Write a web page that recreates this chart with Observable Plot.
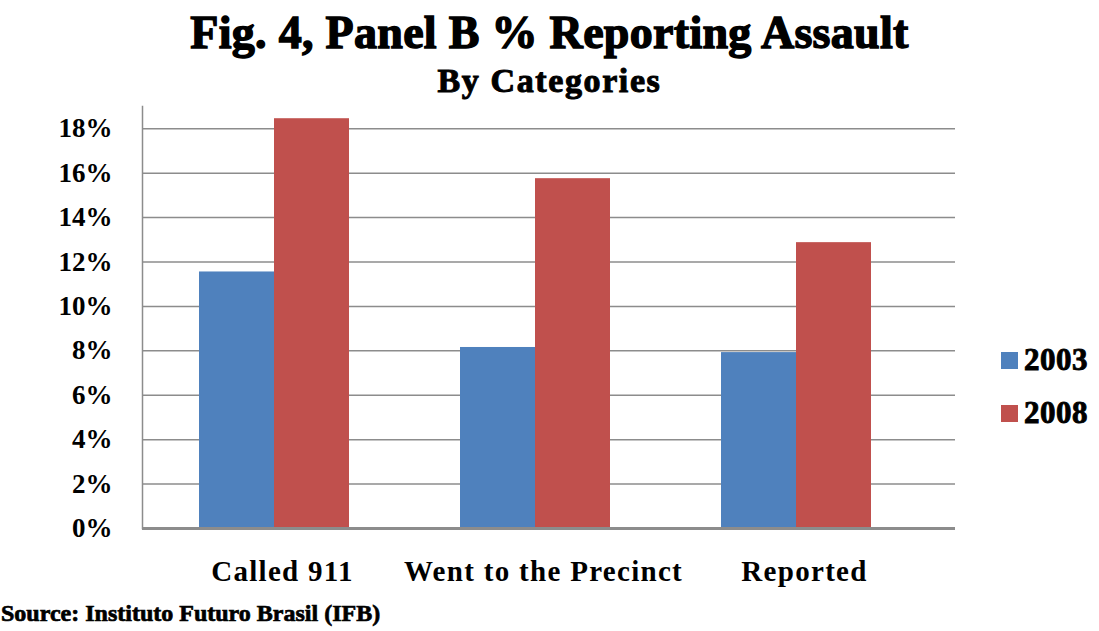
<!DOCTYPE html>
<html>
<head>
<meta charset="utf-8">
<script src="https://cdn.jsdelivr.net/npm/d3@7"></script>
<script src="https://cdn.jsdelivr.net/npm/@observablehq/plot@0.6"></script>
<style>
  html, body { margin: 0; padding: 0; background: #fff; }
  #wrap { position: relative; width: 1099px; height: 631px; overflow: hidden; font-family: "Liberation Serif", "DejaVu Serif", serif; color: #000; }
  #title { position: absolute; left: 0; top: 7px; width: 1099px; text-align: center; font-size: 46px; font-weight: bold; letter-spacing: 0.3px; line-height: 52px; -webkit-text-stroke: 1.4px #000; }
  #subtitle { position: absolute; left: 0; top: 62px; width: 1099px; text-align: center; font-size: 34px; font-weight: bold; letter-spacing: 1.6px; line-height: 38px; -webkit-text-stroke: 1px #000; }
  #chart { position: absolute; left: 0; top: 100px; }
  #legend { position: absolute; left: 1001px; top: 343px; font-size: 31px; font-weight: bold; letter-spacing: 0.5px; -webkit-text-stroke: 0.9px #000; }
  #legend .item { display: flex; align-items: center; height: 34px; margin-bottom: 19px; }
  #legend .sw { width: 17px; height: 17px; margin-right: 6px; }
  #caption { position: absolute; left: 1px; top: 598px; font-size: 24px; font-weight: bold; letter-spacing: 0px; line-height: 30px; -webkit-text-stroke: 0.7px #000; }
  svg text { -webkit-text-stroke: 0.8px #000; }
  svg [aria-label="x-axis tick label"] text { letter-spacing: 1.3px; }
</style>
</head>
<body>
<div id="wrap">
  <div id="title"></div>
  <div id="subtitle"></div>
  <div id="chart"></div>
  <div id="legend"></div>
  <div id="caption"></div>
</div>
<script>
const titleText = "Fig. 4, Panel B % Reporting Assault";
const subtitleText = "By Categories";
const captionText = "Source: Instituto Futuro Brasil (IFB)";
const categories = ["Called 911", "Went to the Precinct", "Reported"];
const years = ["2003", "2008"];
const values2003 = [0.1155, 0.0815, 0.0792];
const values2008 = [0.1845, 0.1575, 0.1287];
const yTicks = [0, 0.02, 0.04, 0.06, 0.08, 0.10, 0.12, 0.14, 0.16, 0.18];
const colors = ["#4F81BD", "#C0504D"];

const rows2003 = categories.map((c, i) => ({category: c, year: years[0], value: values2003[i]}));
const rows2008 = categories.map((c, i) => ({category: c, year: years[1], value: values2008[i]}));

document.getElementById("title").textContent = titleText;
document.getElementById("subtitle").textContent = subtitleText;
document.getElementById("caption").textContent = captionText;

const legend = document.getElementById("legend");
years.forEach((y, i) => {
  const item = document.createElement("div");
  item.className = "item";
  const sw = document.createElement("span");
  sw.className = "sw";
  sw.style.background = colors[i];
  const t = document.createElement("span");
  t.textContent = y;
  item.appendChild(sw);
  item.appendChild(t);
  legend.appendChild(item);
});

const chart = Plot.plot({
  width: 1099,
  height: 498,
  marginLeft: 142,
  marginRight: 144,
  marginTop: 6,
  marginBottom: 70,
  style: {fontFamily: "'Liberation Serif', serif", background: "transparent"},
  x: {type: "band", domain: categories, range: [198, 871], paddingInner: 0.426, paddingOuter: 0, label: null},
  y: {domain: [0, 0.19], label: null},
  marks: [
    Plot.gridY(yTicks, {stroke: "#8c8c8c", strokeOpacity: 1, strokeWidth: 1.5}),
    Plot.barY(rows2003, {x: "category", y: "value", fill: colors[0], insetRight: 75}),
    Plot.barY(rows2008, {x: "category", y: "value", fill: colors[1], insetLeft: 75}),
    Plot.frame({anchor: "left", stroke: "#8c8c8c", strokeWidth: 1.5}),
    Plot.ruleY([0], {stroke: "#8c8c8c", strokeWidth: 3}),
    Plot.axisY(yTicks, {tickSize: 0, tickPadding: 30, tickFormat: d => Math.round(d * 100) + "%", fontSize: 27, fontWeight: "bold", label: null}),
    Plot.axisX({tickSize: 0, tickPadding: 32, dx: 8, fontSize: 29, fontWeight: "bold", label: null})
  ]
});
document.getElementById("chart").appendChild(chart);
</script>
</body>
</html>
